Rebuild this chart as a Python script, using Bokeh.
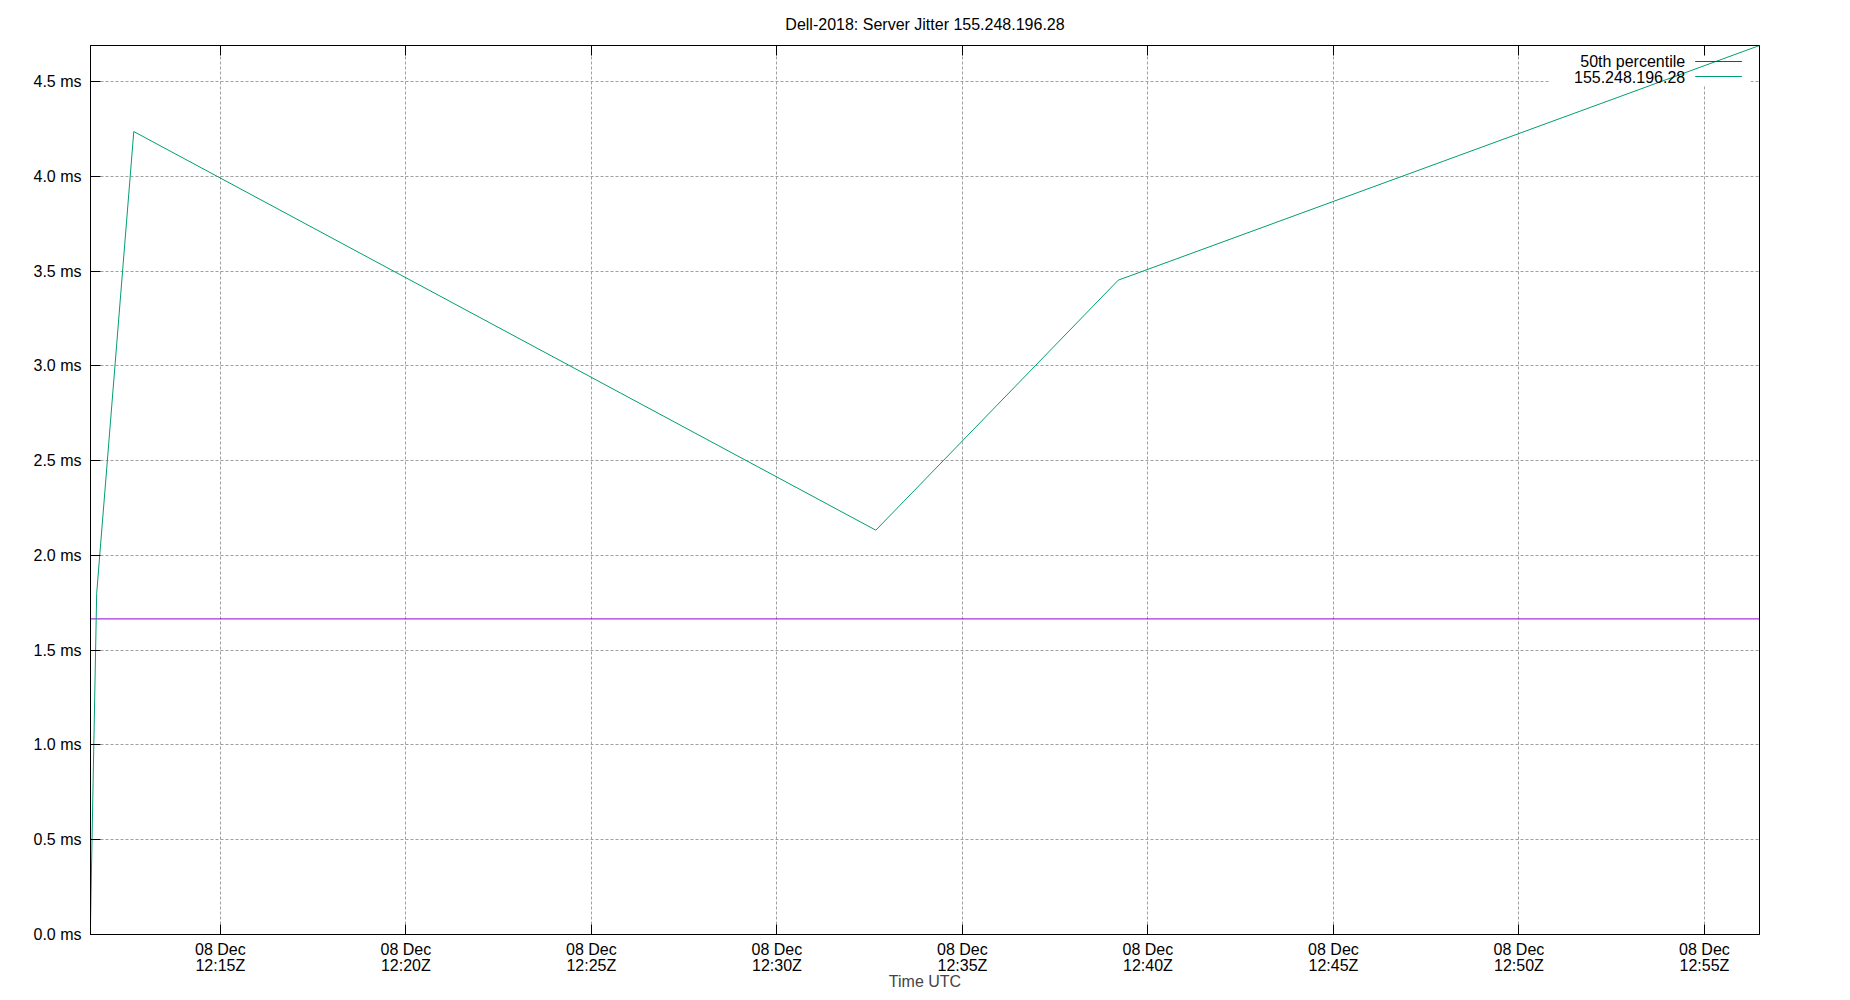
#Server jitter line chart (gnuplot look) with Bokeh

import pandas as pd
from bokeh.plotting import figure
from bokeh.models import (Range1d, FixedTicker, DatetimeTickFormatter, PrintfTickFormatter,
                          CustomJSTickFormatter, DatetimeAxis, Label, BoxAnnotation)
from bokeh.embed import file_html
from bokeh.resources import INLINE

#Texts

chart_title = "Dell-2018: Server Jitter 155.248.196.28"
series_name = "155.248.196.28"
median_name = "50th percentile"
x_label = "Time UTC"

#Data

times = ["2018-12-08 12:11:30", "2018-12-08 12:11:32", "2018-12-08 12:11:40",
         "2018-12-08 12:12:40", "2018-12-08 12:32:40", "2018-12-08 12:39:12",
         "2018-12-08 12:56:29"]
jitter_ms = [0.05, 0.42, 1.80, 4.236, 2.133, 3.452, 4.69]
median_ms = 1.665

x_tick_times = ["2018-12-08 12:15", "2018-12-08 12:20", "2018-12-08 12:25",
                "2018-12-08 12:30", "2018-12-08 12:35", "2018-12-08 12:40",
                "2018-12-08 12:45", "2018-12-08 12:50", "2018-12-08 12:55"]
y_ticks = [0.0, 0.5, 1.0, 1.5, 2.0, 2.5, 3.0, 3.5, 4.0, 4.5]

green = "#009e73"
purple = "#9400d3"
font = "Liberation Sans"

x = pd.to_datetime(times)
x_ticks = (pd.to_datetime(x_tick_times).astype("int64") // 10**6).tolist()

#Frame size in pixels
fw = 1669
fh = 891

p = figure(width=1834, height=992, x_axis_type="datetime",
           x_range=Range1d(x[0].to_pydatetime(), x[-1].to_pydatetime()),
           y_range=Range1d(0, max(jitter_ms)),
           output_backend="svg", toolbar_location=None,
           min_border_left=90, min_border_right=75, min_border_top=45, min_border_bottom=56)

p.outline_line_color = "black"
p.outline_line_width = 1
p.background_fill_color = "white"
p.border_fill_color = "white"

#Title
p.title.text = chart_title
p.title.align = "center"
p.title.text_font = font
p.title.text_font_size = "16px"
p.title.text_font_style = "normal"
p.title.text_color = "black"
p.title.standoff = 25

#Grid
for g in (p.xgrid, p.ygrid):
    g.grid_line_color = "#a0a0a0"
    g.grid_line_dash = "3 2"
    g.grid_line_width = 1
p.xgrid.ticker = FixedTicker(ticks=x_ticks)
p.ygrid.ticker = FixedTicker(ticks=y_ticks)

#Bottom axis
xa = p.xaxis[0]
xa.ticker = FixedTicker(ticks=x_ticks)
fmt = "%d %b\n%H:%MZ"
xa.formatter = DatetimeTickFormatter(minutes=fmt, hourmin=fmt, hours=fmt, minsec=fmt)
xa.major_tick_in = 10
xa.major_tick_out = 0
xa.minor_tick_line_color = None
xa.major_label_standoff = 6
xa.major_label_text_font = font
xa.major_label_text_font_size = "16px"
xa.major_label_text_line_height = 0.95
xa.major_label_text_color = "black"
xa.axis_label = x_label
xa.axis_label_text_font = font
xa.axis_label_text_font_size = "16px"
xa.axis_label_text_font_style = "normal"
xa.axis_label_text_line_height = 1.0
xa.axis_label_standoff = -4
xa.axis_line_color = "black"

#Left axis
ya = p.yaxis[0]
ya.ticker = FixedTicker(ticks=y_ticks)
ya.formatter = PrintfTickFormatter(format="%.1f ms")
ya.major_tick_in = 10
ya.major_tick_out = 0
ya.minor_tick_line_color = None
ya.major_label_standoff = 9
ya.major_label_text_font = font
ya.major_label_text_font_size = "16px"
ya.major_label_text_color = "black"
ya.axis_line_color = "black"

#Top axis: ticks only
top = DatetimeAxis(ticker=FixedTicker(ticks=x_ticks), major_tick_in=10, major_tick_out=0,
                   minor_tick_line_color=None, formatter=CustomJSTickFormatter(code="return ''"),
                   major_label_standoff=0, axis_line_color="black")
p.add_layout(top, "above")

#White key box hides the grid behind the legend
p.add_layout(BoxAnnotation(left=1460, right=1660, bottom=849, top=fh,
                           left_units="screen", right_units="screen",
                           bottom_units="screen", top_units="screen",
                           fill_color="white", fill_alpha=1, line_color=None, level="underlay"))

#Lines
p.line([x[0], x[-1]], [median_ms, median_ms], line_color=purple, line_width=1)
p.line(x, jitter_ms, line_color=green, line_width=1)

#Key
key = ((median_name, purple, 873.4, 873.0), (series_name, green, 857.7, 858.0))
for name, col, ty, ly in key:
    p.add_layout(Label(x=1594.7, y=ty, x_units="screen", y_units="screen", text=name,
                       text_align="right", text_baseline="middle", text_font=font,
                       text_font_size="16px", text_color="black"))
    p.add_layout(BoxAnnotation(left=1604.7, right=1651.4, bottom=ly - 0.6, top=ly + 0.6,
                               left_units="screen", right_units="screen",
                               bottom_units="screen", top_units="screen",
                               fill_color=col, fill_alpha=1, line_color=None))

open("out.html", "w").write(file_html(p, INLINE))
